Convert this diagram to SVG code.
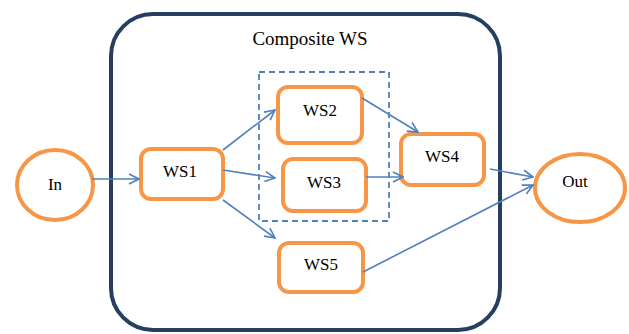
<svg xmlns="http://www.w3.org/2000/svg" width="629" height="334" viewBox="0 0 629 334">
  <defs>
    <marker id="arrow" viewBox="0 0 12 12" refX="11" refY="6" markerWidth="12" markerHeight="12" markerUnits="userSpaceOnUse" orient="auto">
      <path d="M1,1 L11,6 L1,11" fill="none" stroke="#4F81BD" stroke-width="1.6"/>
    </marker>
  </defs>
  <style>
    .node { fill: #FFFFFF; stroke: #F79646; stroke-width: 4; }
    .label { font-family: "Liberation Serif", "Times New Roman", Times, serif; font-size: 17px; fill: #000000; text-anchor: middle; }
    .title { font-size: 19px; }
    .edge { fill: none; stroke: #4F81BD; stroke-width: 1.6; marker-end: url(#arrow); }
  </style>
  <rect width="629" height="334" fill="#FFFFFF"/>

  <!-- composite service boundary -->
  <g id="composite">
    <rect x="111" y="14" width="389" height="316" rx="42" ry="42" fill="none" stroke="#243F60" stroke-width="4"/>
    <text class="title" x="310" y="45" font-family="Liberation Serif" font-size="19" text-anchor="middle">Composite WS</text>
  </g>

  <!-- parallel block -->
  <g id="parallel">
    <rect x="259" y="72" width="130" height="149" fill="none" stroke="#4F81BD" stroke-width="1.8" stroke-dasharray="6 4"/>
  </g>

  <g id="in">
    <ellipse cx="55" cy="185" rx="38" ry="35" class="node"/>
    <text class="label" x="55" y="190">In</text>
  </g>
  <g id="ws1">
    <rect x="141" y="149" width="82" height="50" rx="10" class="node"/>
    <text class="label" x="180" y="177">WS1</text>
  </g>
  <g id="ws2">
    <rect x="278" y="87" width="84" height="56" rx="10" class="node"/>
    <text class="label" x="320" y="116">WS2</text>
  </g>
  <g id="ws3">
    <rect x="283" y="159" width="83" height="52" rx="10" class="node"/>
    <text class="label" x="324" y="188">WS3</text>
  </g>
  <g id="ws4">
    <rect x="401" y="134" width="83" height="51" rx="10" class="node"/>
    <text class="label" x="442" y="162">WS4</text>
  </g>
  <g id="ws5">
    <rect x="279" y="243" width="84" height="49" rx="10" class="node"/>
    <text class="label" x="321" y="270">WS5</text>
  </g>
  <g id="out">
    <ellipse cx="580" cy="188" rx="45" ry="34" class="node"/>
    <text class="label" x="575" y="187">Out</text>
  </g>

  <g id="connectors">
    <line class="edge" x1="92" y1="179" x2="139" y2="179"/>
    <line class="edge" x1="223" y1="150" x2="275" y2="110"/>
    <line class="edge" x1="223" y1="170" x2="275" y2="178"/>
    <line class="edge" x1="223" y1="200" x2="275" y2="238"/>
    <line class="edge" x1="362" y1="98" x2="418" y2="132"/>
    <line class="edge" x1="366" y1="177" x2="403" y2="177"/>
    <line class="edge" x1="490" y1="169" x2="533" y2="177"/>
    <line class="edge" x1="363" y1="272" x2="533" y2="185"/>
  </g>
</svg>
